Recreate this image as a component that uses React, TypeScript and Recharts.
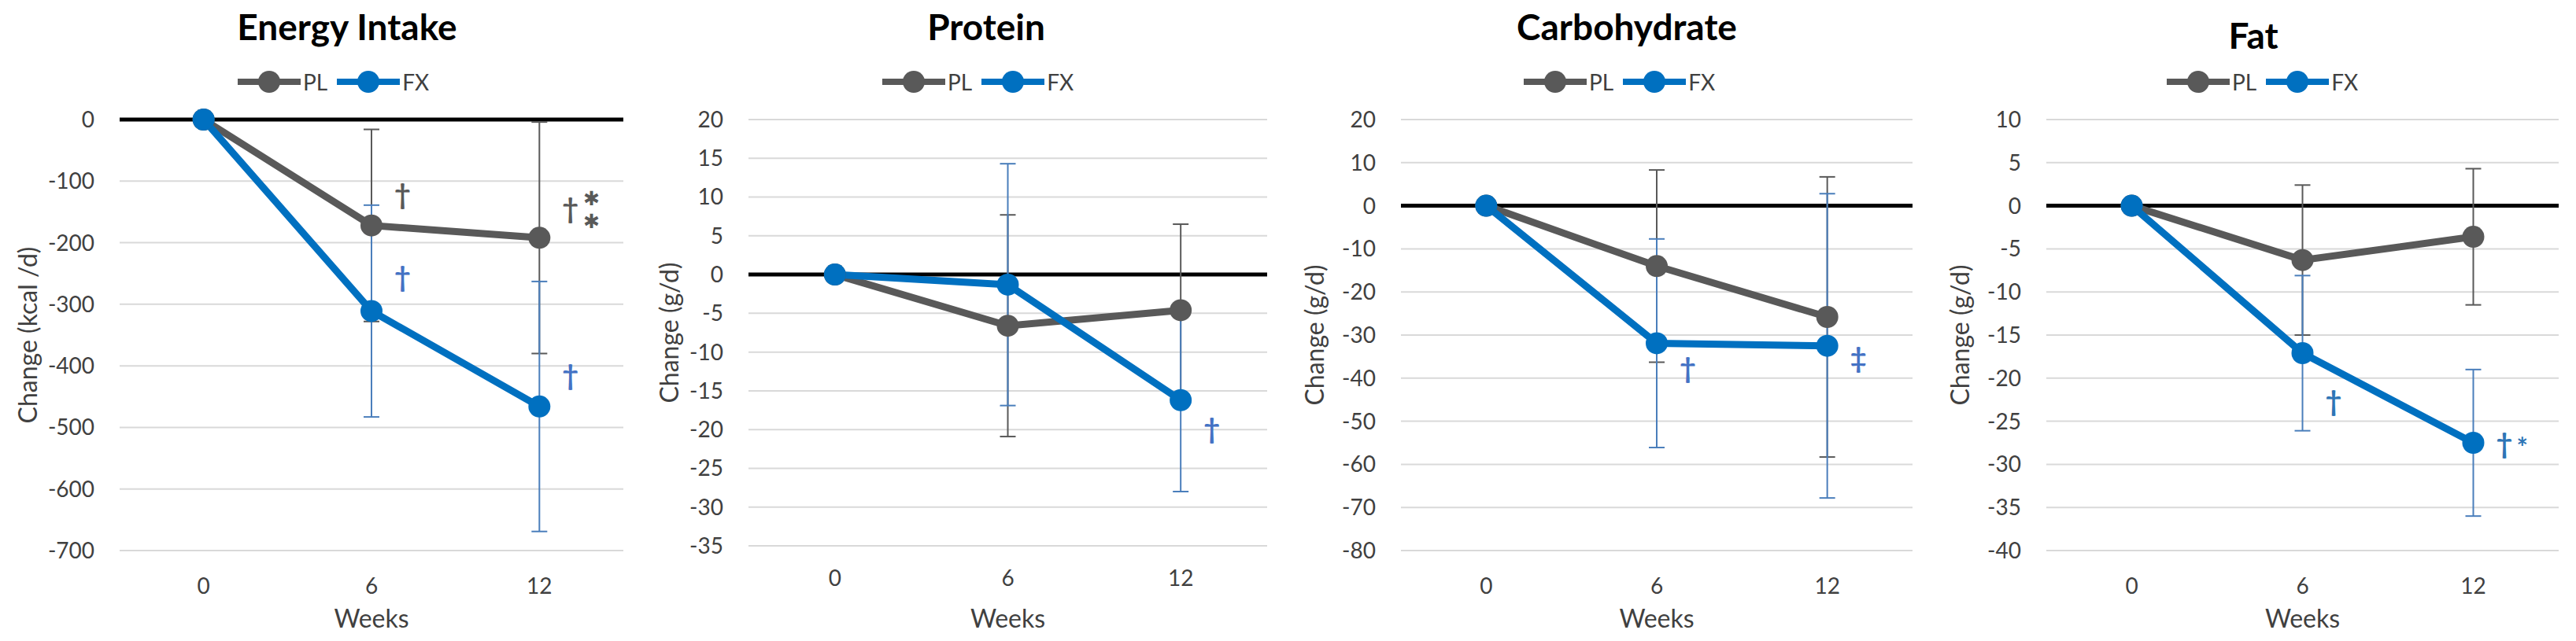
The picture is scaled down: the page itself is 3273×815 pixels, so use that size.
import React from 'react'
import {
  LineChart, Line, XAxis, YAxis, CartesianGrid, ReferenceLine,
  ReferenceDot, ErrorBar, Legend,
} from 'recharts'

if (typeof document !== 'undefined') document.body.style.margin = '0'

const FONT = 'Lato, "Open Sans", sans-serif'
const GREY = '#595959'
const BLUE = '#0070c0'
const BLUE_BAR = '#4a7ebb'
const TEXT = '#404040'

const weeks = [0, 6, 12]
const seriesOrder = ['PL', 'FX']

// Energy intake (kcal/d)
const energyPL = [0, -172, -192]
const energyPLsd = [0, 156, 188]
const energyFX = [0, -311, -466]
const energyFXsd = [0, 172, 203]
const energyTicks = [0, -100, -200, -300, -400, -500, -600, -700]

// Protein (g/d)
const proteinPL = [0, -6.6, -4.6]
const proteinPLsd = [0, 14.3, 11.1]
const proteinFX = [0, -1.3, -16.2]
const proteinFXsd = [0, 15.6, 11.8]
const proteinTicks = [20, 15, 10, 5, 0, -5, -10, -15, -20, -25, -30, -35]

// Carbohydrate (g/d)
const carbPL = [0, -14, -25.8]
const carbPLsd = [0, 22.3, 32.5]
const carbFX = [0, -31.9, -32.5]
const carbFXsd = [0, 24.2, 35.3]
const carbTicks = [20, 10, 0, -10, -20, -30, -40, -50, -60, -70, -80]

// Fat (g/d)
const fatPL = [0, -6.3, -3.6]
const fatPLsd = [0, 8.7, 7.9]
const fatFX = [0, -17.1, -27.5]
const fatFXsd = [0, 9.0, 8.5]
const fatTicks = [10, 5, 0, -5, -10, -15, -20, -25, -30, -35, -40]

// significance marks: week, y value, symbol, series
type Mark = { week: number; value: number; text: string; series: 'PL' | 'FX' }
const energyMarks: Mark[] = [
  { week: 6, value: -123, text: '†', series: 'PL' },
  { week: 12, value: -145, text: '†**', series: 'PL' },
  { week: 6, value: -257, text: '†', series: 'FX' },
  { week: 12, value: -417, text: '†', series: 'FX' },
]
const proteinMarks: Mark[] = [
  { week: 12, value: -20, text: '†', series: 'FX' },
]
const carbMarks: Mark[] = [
  { week: 6, value: -37.8, text: '†', series: 'FX' },
  { week: 12, value: -35.4, text: '‡', series: 'FX' },
]
const fatMarks: Mark[] = [
  { week: 6, value: -22.8, text: '†', series: 'FX' },
  { week: 12, value: -27.7, text: '†*', series: 'FX' },
]

const panels = [
  {
    title: 'Energy Intake', yLabel: 'Change (kcal /d)',
    pl: energyPL, plSd: energyPLsd, fx: energyFX, fxSd: energyFXsd,
    ticks: energyTicks, marks: energyMarks, markBlue: '#4472c4',
    plotLeft: 152, plotWidth: 640, plotBottom: 700,
    titleX: 441, titleY: 52, legendX: 302, yTitleGap: 118,
  },
  {
    title: 'Protein', yLabel: 'Change (g/d)',
    pl: proteinPL, plSd: proteinPLsd, fx: proteinFX, fxSd: proteinFXsd,
    ticks: proteinTicks, marks: proteinMarks, markBlue: '#4472c4',
    plotLeft: 951, plotWidth: 659, plotBottom: 694,
    titleX: 1253, titleY: 52, legendX: 1121, yTitleGap: 102,
  },
  {
    title: 'Carbohydrate', yLabel: 'Change (g/d)',
    pl: carbPL, plSd: carbPLsd, fx: carbFX, fxSd: carbFXsd,
    ticks: carbTicks, marks: carbMarks, markBlue: '#4472c4',
    plotLeft: 1780, plotWidth: 650, plotBottom: 700,
    titleX: 2067, titleY: 52, legendX: 1936, yTitleGap: 111,
  },
  {
    title: 'Fat', yLabel: 'Change (g/d)',
    pl: fatPL, plSd: fatPLsd, fx: fatFX, fxSd: fatFXsd,
    ticks: fatTicks, marks: fatMarks, markBlue: '#2e75b6',
    plotLeft: 2600, plotWidth: 651, plotBottom: 700,
    titleX: 2863, titleY: 63, legendX: 2753, yTitleGap: 111,
  },
]

const H = 815
const PLOT_TOP = 152
const AXIS_W = 150

function SeriesLegend({ payload }: any) {
  const items = [...(payload || [])].sort(
    (a: any, b: any) => seriesOrder.indexOf(a.value) - seriesOrder.indexOf(b.value),
  )
  return (
    <div style={{ display: 'flex', alignItems: 'center', gap: 12, fontFamily: FONT, fontSize: 28, color: TEXT }}>
      {items.map((p: any) => (
        <div key={p.value} style={{ display: 'flex', alignItems: 'center' }}>
          <svg width={80} height={30}>
            <line x1={0} y1={15} x2={80} y2={15} stroke={p.color} strokeWidth={8} />
            <circle cx={40} cy={15} r={14} fill={p.color} />
          </svg>
          <span style={{ marginLeft: 3, lineHeight: '30px' }}>{p.value}</span>
        </div>
      ))}
    </div>
  )
}

// dagger drawn to the right of a point; asterisks follow in the same text element
function SigMark({ cx, cy, text, color }: any) {
  if (cx == null || cy == null) return null
  const x = cx + 29 // left edge of the dagger glyph
  const y = cy + 12
  const common = { fill: color, fontFamily: FONT, fontWeight: 700, fontSize: 36 }
  if (text === '†**') {
    return (
      <text x={x} y={y} {...common}>
        †
        <tspan dx={6} dy={-17} fontSize={25} fontFamily="DejaVu Sans">✱</tspan>
        <tspan dx={-21} dy={29} fontSize={25} fontFamily="DejaVu Sans">✱</tspan>
      </text>
    )
  }
  if (text === '†*') {
    return (
      <text x={x} y={y} {...common}>
        †<tspan dx={5} dy={4} fontSize={34}>*</tspan>
      </text>
    )
  }
  return <text x={x} y={y} {...common}>{text}</text>
}

function Panel({ p }: { p: (typeof panels)[number] }) {
  const left = p.plotLeft - AXIS_W
  const width = AXIS_W + p.plotWidth + 12
  const data = weeks.map((w, i) => ({
    week: w, PL: p.pl[i], plSd: p.plSd[i], FX: p.fx[i], fxSd: p.fxSd[i],
  }))
  const domain = [p.ticks[p.ticks.length - 1], p.ticks[0]]
  const tickStyle = { fill: TEXT, fontSize: 28, fontFamily: FONT }

  return (
    <div style={{ position: 'absolute', left, top: 0, width, height: H }}>
      <div
        style={{
          position: 'absolute', left: p.titleX - left - 300, width: 600, top: p.titleY - 41,
          textAlign: 'center', fontFamily: FONT, fontWeight: 700, fontSize: 46, lineHeight: 1, color: '#000',
        }}
      >
        {p.title}
      </div>
      <LineChart width={width} height={H} data={data} margin={{ top: PLOT_TOP, right: 12, left: 0, bottom: 0 }}>
        <CartesianGrid vertical={false} stroke="#d9d9d9" strokeWidth={2} />
        <XAxis
          type="number" dataKey="week" domain={[-3, 15]} ticks={weeks}
          axisLine={false} tickLine={false} tickMargin={p.plotBottom === 700 ? 29 : 25}
          height={H - p.plotBottom} tick={tickStyle}
          label={{ value: 'Weeks', position: 'insideBottom', offset: 17, fill: TEXT, fontSize: 32, fontFamily: FONT }}
        />
        <YAxis
          type="number" domain={domain} ticks={p.ticks} interval={0}
          axisLine={false} tickLine={false} tickMargin={26} width={AXIS_W} tick={tickStyle}
          label={{
            content: (lp: any) => {
              const vb = lp.viewBox || {}
              const x = vb.x + vb.width - p.yTitleGap
              const y = vb.y + vb.height / 2
              return (
                <text x={x} y={y} transform={`rotate(-90 ${x} ${y})`} textAnchor="middle" dominantBaseline="central"
                  fill={TEXT} fontSize={32} fontFamily={FONT}>
                  {p.yLabel}
                </text>
              )
            },
          }}
        />
        <Legend
          verticalAlign="middle" align="center" layout="horizontal"
          wrapperStyle={{ top: 89, left: p.legendX - left, width: 300 }}
          content={<SeriesLegend />}
        />
        <ReferenceLine y={0} stroke="#000" strokeWidth={5} />
        <Line
          dataKey="PL" name="PL" stroke={GREY} strokeWidth={9} isAnimationActive={false}
          dot={{ r: 14, fill: GREY, stroke: GREY, strokeWidth: 0 }} activeDot={false}
        >
          <ErrorBar dataKey="plSd" direction="y" width={10} stroke={GREY} strokeWidth={2} isAnimationActive={false} />
        </Line>
        <Line
          dataKey="FX" name="FX" stroke={BLUE} strokeWidth={9} isAnimationActive={false}
          dot={{ r: 14, fill: BLUE, stroke: BLUE, strokeWidth: 0 }} activeDot={false}
        >
          <ErrorBar dataKey="fxSd" direction="y" width={10} stroke={BLUE_BAR} strokeWidth={2} isAnimationActive={false} />
        </Line>
        {p.marks.map((m, i) => (
          <ReferenceDot
            key={i} x={m.week} y={m.value} r={0} ifOverflow="visible"
            shape={(sp: any) => <SigMark {...sp} text={m.text} color={m.series === 'PL' ? GREY : p.markBlue} />}
          />
        ))}
      </LineChart>
    </div>
  )
}

export default function App() {
  return (
    <div style={{ position: 'relative', width: 3273, height: H, background: '#fff', overflow: 'hidden' }}>
      {panels.map((p) => <Panel key={p.title} p={p} />)}
    </div>
  )
}
